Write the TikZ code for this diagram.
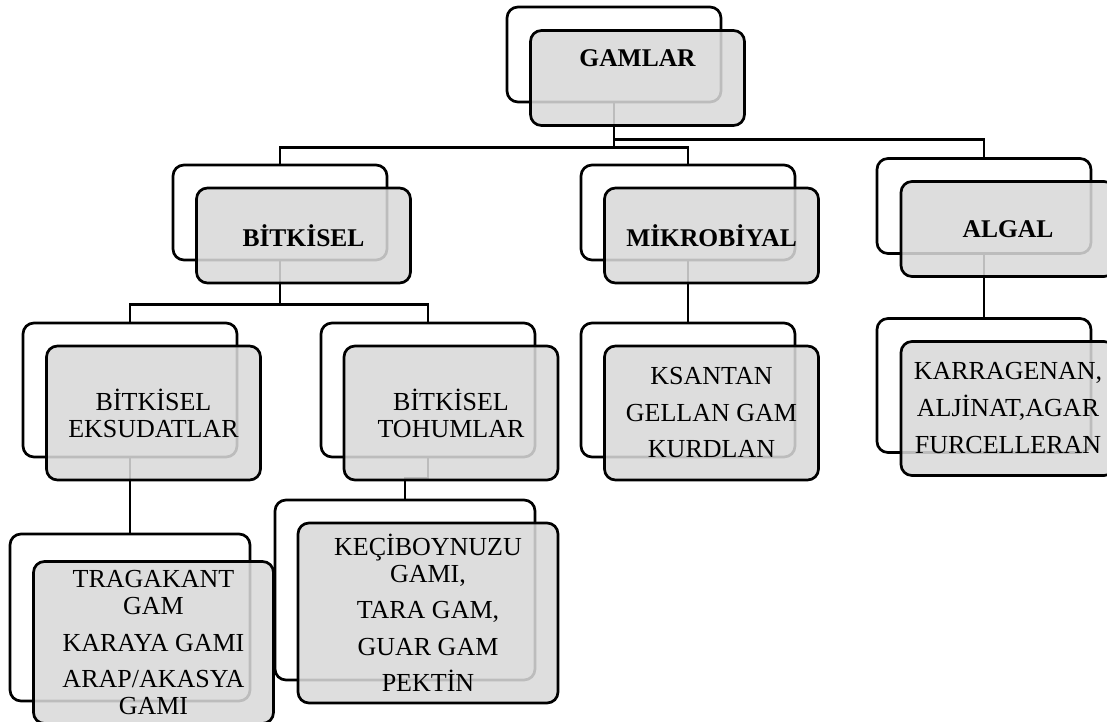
\documentclass[tikz,border=0pt]{standalone}
\usepackage{fontspec}
\setmainfont{Liberation Serif}

\begin{document}
\begin{tikzpicture}[x=1pt,y=1pt,
    backbox/.style={draw,line width=2.7pt,rounded corners=11pt,fill=white,inner sep=0pt},
    frontbox/.style={draw,line width=2.7pt,rounded corners=11pt,fill=black!15,fill opacity=0.87,
        text opacity=1,inner sep=0pt,align=center,font=\fontsize{26}{27}\selectfont},
    headbox/.style={frontbox,font=\bfseries\fontsize{25.5}{27}\selectfont},
    topsize/.style={minimum width=214pt,minimum height=95pt},
    midsize/.style={minimum width=214pt,minimum height=134pt},
    link/.style={line width=2.5pt}]
\clip (0,0) rectangle (1107,721);

% arkadaki kutular
\node[backbox,topsize] (gamlar) at (614,666.5) {};
\node[backbox,topsize] (bitkisel) at (280,508.5) {};
\node[backbox,topsize] (mikro) at (688,508.5) {};
\node[backbox,topsize] (algal) at (984,515) {};
\node[backbox,midsize] (eksudat) at (130,331) {};
\node[backbox,midsize] (tohum) at (428,331) {};
\node[backbox,midsize] (ksantan) at (688,331) {};
\node[backbox,midsize] (karra) at (984,335.5) {};
\node[backbox,minimum width=240pt,minimum height=167pt] (traga) at (130,103.5) {};
\node[backbox,minimum width=260pt,minimum height=180pt] (keci) at (405,131) {};

% baglantilar
\draw[link] (gamlar.south) -- ++(0,-44) -| (bitkisel.north);
\draw[link] (gamlar.south) -- ++(0,-44) -| (mikro.north);
\draw[link] (gamlar.south) -- ++(0,-36) -| (algal.north);
\draw[link] (bitkisel.south) -- ++(0,-43) -| (eksudat.north);
\draw[link] (bitkisel.south) -- ++(0,-43) -| (tohum.north);
\draw[link] (eksudat.south) -- (traga.north);
\draw[link] (tohum.south) -- ++(0,-20) -| (keci.north);
\draw[link] (mikro.south) -- (ksantan.north);
\draw[link] (algal.south) -- (karra.north);

% ondeki kutular
\node[headbox,topsize,text depth=40pt] (gamlarF) at ([shift={(23.5pt,-23.5pt)}]gamlar.center) {GAMLAR};
\node[headbox,topsize] (bitkiselF) at ([shift={(23.5pt,-23pt)}]bitkisel.center) {BİTKİSEL};
\node[headbox,topsize] (mikroF) at ([shift={(23.5pt,-23pt)}]mikro.center) {MİKROBİYAL};
\node[headbox,topsize] (algalF) at ([shift={(24pt,-23pt)}]algal.center) {ALGAL};
\node[frontbox,midsize] (eksudatF) at ([shift={(23.5pt,-23pt)}]eksudat.center) {BİTKİSEL\\EKSUDATLAR};
\node[frontbox,midsize] (tohumF) at ([shift={(23pt,-23pt)}]tohum.center) {BİTKİSEL\\TOHUMLAR};
\node[frontbox,midsize] (ksantanF) at ([shift={(23.5pt,-23pt)}]ksantan.center) {KSANTAN\\[9.5pt]GELLAN GAM\\[9.5pt]KURDLAN};
\node[frontbox,midsize] (karraF) at ([shift={(24pt,-23pt)}]karra.center) {KARRAGENAN,\\[10pt]ALJİNAT,AGAR\\[10pt]FURCELLERAN};
\node[frontbox,minimum width=240pt,minimum height=162pt] (tragaF) at ([shift={(23.5pt,-25pt)}]traga.center)
    {TRAGAKANT\\GAM\\[10pt]KARAYA GAMI\\[8.5pt]ARAP/AKASYA\\GAMI};
\node[frontbox,minimum width=260pt,minimum height=180pt] (keciF) at ([shift={(23pt,-23pt)}]keci.center)
    {KEÇİBOYNUZU\\GAMI,\\[9.5pt]TARA GAM,\\[9.5pt]GUAR GAM\\[9.5pt]PEKTİN};
\end{tikzpicture}
\end{document}
